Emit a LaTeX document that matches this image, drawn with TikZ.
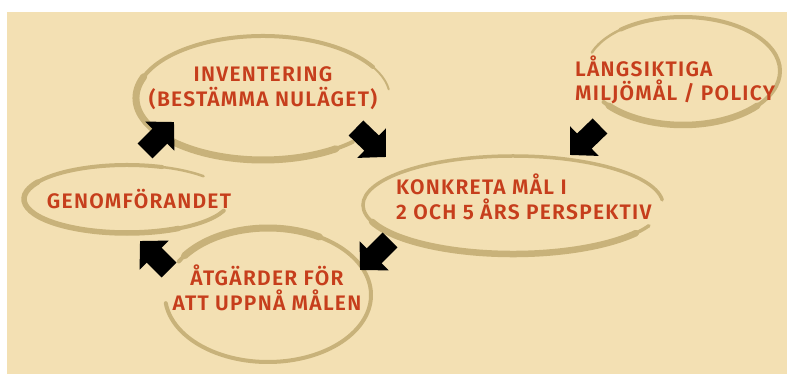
\documentclass[tikz,border=0pt]{standalone}
\usepackage{fontspec}
\setmainfont{Fira Sans}
\newfontfamily\stagefont[LetterSpace=6]{Fira Sans SemiBold}
\usepackage{tikz}
\usetikzlibrary{arrows.meta}
\definecolor{bgwheat}{RGB}{243,224,179}
\definecolor{brushtan}{RGB}{200,178,122}
\definecolor{txtred}{RGB}{198,62,28}

\begin{document}
\begin{tikzpicture}[x=1pt,y=-1pt,
  stagetext/.style={text=txtred,font=\stagefont\fontsize{21}{24.5}\selectfont,inner sep=0pt},
  brush/.style={draw=brushtan,line width=4pt,line cap=round},
  heavy/.style={draw=brushtan,line width=7pt,line cap=round},
  fat/.style={line width=21pt,-{Triangle[length=20pt,width=40pt]}}]
\useasboundingbox (0,0) rectangle (787,374);
\fill[white] (0,0) rectangle (787,374); %%
\fill[bgwheat] (7,12) rectangle (787,374); %%
% brush strokes
\draw[brush,line width=2pt] (263,98) ++(-8:127 and 62) arc[start angle=-8,end angle=-40,x radius=127,y radius=62]; %%
\draw[brush] (263,98) ++(-30:127 and 62) arc[start angle=-30,end angle=-315,x radius=127,y radius=62]; %%
\draw[heavy] (263,98) ++(-160:127 and 62) arc[start angle=-160,end angle=-305,x radius=127,y radius=62]; %%
\draw[brush,line width=2.5pt] (127,199) ++(-42:103 and 34) arc[start angle=-42,end angle=-80,x radius=103,y radius=34]; %%
\draw[brush] (127,199) ++(-70:103 and 34) arc[start angle=-70,end angle=-340,x radius=103,y radius=34]; %%
\draw[brush,line width=5.5pt] (127,199) ++(-150:103 and 34) arc[start angle=-150,end angle=-300,x radius=103,y radius=34]; %%
\draw[brush] (268,295) ++(210:103 and 67) arc[start angle=210,end angle=533,x radius=103,y radius=67]; %%
\draw[heavy] (268,295) ++(216:103 and 67) arc[start angle=216,end angle=300,x radius=103,y radius=67]; %%
\draw[brush,line width=3.5pt] (513,205) ++(-6:150 and 49) arc[start angle=-6,end angle=-335,x radius=150,y radius=49]; %%
\draw[brush,line width=6.5pt] (513,205) ++(-200:150 and 49) arc[start angle=-200,end angle=-325,x radius=150,y radius=49]; %%
\draw[brush,line width=2.5pt] (683,71) ++(200:97 and 54) arc[start angle=200,end angle=240,x radius=97,y radius=54]; %%
\draw[brush] (683,71) ++(230:97 and 54) arc[start angle=230,end angle=505,x radius=97,y radius=54]; %%
\draw[brush,line width=6.5pt] (683,71) ++(400:97 and 54) arc[start angle=400,end angle=500,x radius=97,y radius=54]; %%
% texts
\node[stagetext,align=center] (inv) at (263,88) {INVENTERING\\(BESTÄMMA NULÄGET)}; %%
\node[stagetext] (gen) at (139,199) {GENOMFÖRANDET}; %%
\node[stagetext,align=center] (atg) at (267,288) {ÅTGÄRDER FÖR\\ATT UPPNÅ MÅLEN}; %%
\node[stagetext,align=left,anchor=west] (konk) at (396,197) {KONKRETA MÅL I\\2 OCH 5 ÅRS PERSPEKTIV}; %%
\node[stagetext,align=left,anchor=west] (lang) at (575,80) {LÅNGSIKTIGA\\MILJÖMÅL / POLICY}; %%
% arrows
\coordinate (gen2inv) at (145,151); \coordinate (inv2gen) at (174,122); %%
\coordinate (inv2konk) at (356,128); \coordinate (konk2inv) at (386,157); %%
\coordinate (lang2konk) at (600,126); \coordinate (konk2lang) at (570,155); %%
\coordinate (konk2atg) at (390,240); \coordinate (atg2konk) at (360,270); %%
\coordinate (atg2gen) at (169,270); \coordinate (gen2atg) at (140,241); %%
\draw[fat] (gen2inv) -- (inv2gen); %%
\draw[fat] (inv2konk) -- (konk2inv); %%
\draw[fat] (lang2konk) -- (konk2lang); %%
\draw[fat] (konk2atg) -- (atg2konk); %%
\draw[fat] (atg2gen) -- (gen2atg); %%
\end{tikzpicture}
\end{document}
